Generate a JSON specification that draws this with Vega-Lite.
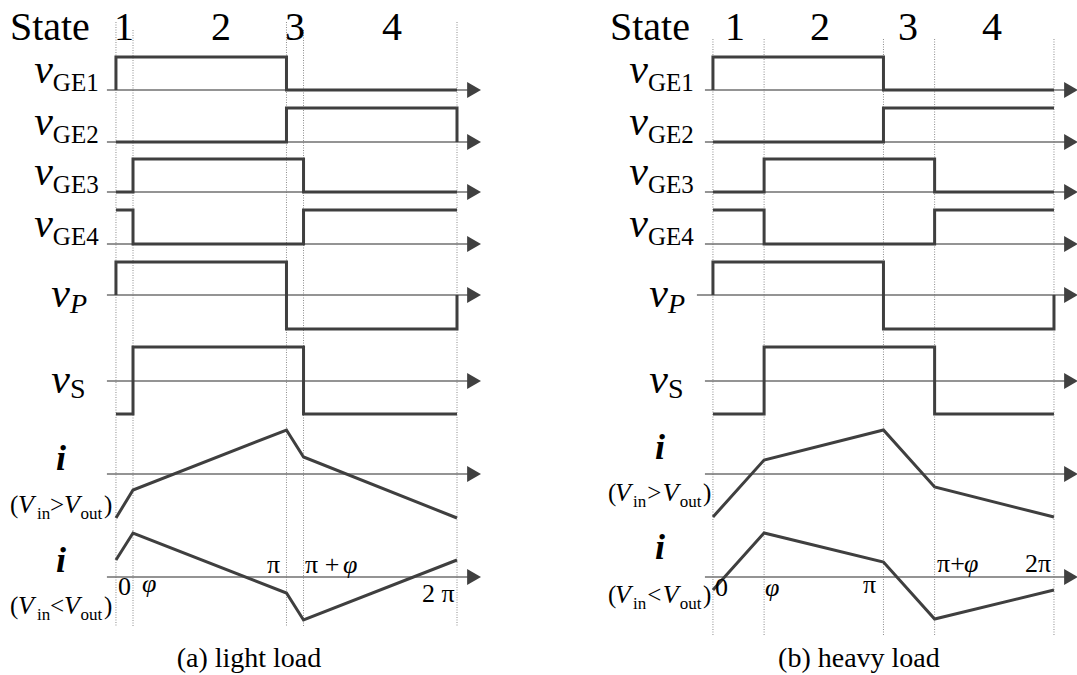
{
"$schema": "https://vega.github.io/schema/vega-lite/v6.json",
"padding": 0,
"spacing": 0,
"bounds": "flush",
"background": "white",
"config": {"font": "Liberation Serif", "view": {"stroke": null}, "text": {"font": "Liberation Serif", "color": "#000000"}},
"datasets": {"d": [
{"panel":"a","kind":"grid","x":0,"y":22,"y2":627},
{"panel":"a","kind":"grid","x":0.1,"y":30,"y2":627},
{"panel":"a","kind":"grid","x":1,"y":22,"y2":627},
{"panel":"a","kind":"grid","x":1.1,"y":30,"y2":627},
{"panel":"a","kind":"grid","x":2,"y":22,"y2":627},
{"panel":"b","kind":"grid","x":0,"y":39,"y2":635},
{"panel":"b","kind":"grid","x":0.3,"y":39,"y2":635},
{"panel":"b","kind":"grid","x":1,"y":39,"y2":635},
{"panel":"b","kind":"grid","x":1.3,"y":39,"y2":635},
{"panel":"b","kind":"grid","x":2,"y":39,"y2":635},

{"panel":"a","kind":"axis","x":-0.053,"x2":2.08,"y":90},
{"panel":"a","kind":"axis","x":-0.053,"x2":2.08,"y":142},
{"panel":"a","kind":"axis","x":-0.053,"x2":2.08,"y":192},
{"panel":"a","kind":"axis","x":-0.053,"x2":2.08,"y":244},
{"panel":"a","kind":"axis","x":-0.053,"x2":2.08,"y":295},
{"panel":"a","kind":"axis","x":-0.053,"x2":2.08,"y":381},
{"panel":"a","kind":"axis","x":-0.053,"x2":2.08,"y":474},
{"panel":"a","kind":"axis","x":-0.053,"x2":2.08,"y":577},
{"panel":"b","kind":"axis","x":-0.047,"x2":2.08,"y":90},
{"panel":"b","kind":"axis","x":-0.047,"x2":2.08,"y":142},
{"panel":"b","kind":"axis","x":-0.047,"x2":2.08,"y":192},
{"panel":"b","kind":"axis","x":-0.047,"x2":2.08,"y":244},
{"panel":"b","kind":"axis","x":-0.094,"x2":2.08,"y":295},
{"panel":"b","kind":"axis","x":-0.047,"x2":2.08,"y":381},
{"panel":"b","kind":"axis","x":-0.047,"x2":2.08,"y":474},
{"panel":"b","kind":"axis","x":-0.047,"x2":2.08,"y":577},

{"panel":"a","kind":"arrow","x":2.1,"y":90},
{"panel":"a","kind":"arrow","x":2.1,"y":142},
{"panel":"a","kind":"arrow","x":2.1,"y":192},
{"panel":"a","kind":"arrow","x":2.1,"y":244},
{"panel":"a","kind":"arrow","x":2.1,"y":295},
{"panel":"a","kind":"arrow","x":2.1,"y":381},
{"panel":"a","kind":"arrow","x":2.1,"y":474},
{"panel":"a","kind":"arrow","x":2.1,"y":577},
{"panel":"b","kind":"arrow","x":2.1,"y":90},
{"panel":"b","kind":"arrow","x":2.1,"y":142},
{"panel":"b","kind":"arrow","x":2.1,"y":192},
{"panel":"b","kind":"arrow","x":2.1,"y":244},
{"panel":"b","kind":"arrow","x":2.1,"y":295},
{"panel":"b","kind":"arrow","x":2.1,"y":381},
{"panel":"b","kind":"arrow","x":2.1,"y":474},
{"panel":"b","kind":"arrow","x":2.1,"y":577},

{"panel":"a","kind":"wave","sig":"GE1","ord":1,"x":0,"y":90},
{"panel":"a","kind":"wave","sig":"GE1","ord":2,"x":0,"y":57},
{"panel":"a","kind":"wave","sig":"GE1","ord":3,"x":1,"y":57},
{"panel":"a","kind":"wave","sig":"GE1","ord":4,"x":1,"y":90},
{"panel":"a","kind":"wave","sig":"GE1","ord":5,"x":2,"y":90},
{"panel":"a","kind":"wave","sig":"GE2","ord":1,"x":0,"y":142},
{"panel":"a","kind":"wave","sig":"GE2","ord":2,"x":1,"y":142},
{"panel":"a","kind":"wave","sig":"GE2","ord":3,"x":1,"y":108},
{"panel":"a","kind":"wave","sig":"GE2","ord":4,"x":2,"y":108},
{"panel":"a","kind":"wave","sig":"GE2","ord":5,"x":2,"y":142},
{"panel":"a","kind":"wave","sig":"GE3","ord":1,"x":0,"y":192},
{"panel":"a","kind":"wave","sig":"GE3","ord":2,"x":0.1,"y":192},
{"panel":"a","kind":"wave","sig":"GE3","ord":3,"x":0.1,"y":159},
{"panel":"a","kind":"wave","sig":"GE3","ord":4,"x":1.1,"y":159},
{"panel":"a","kind":"wave","sig":"GE3","ord":5,"x":1.1,"y":192},
{"panel":"a","kind":"wave","sig":"GE3","ord":6,"x":2,"y":192},
{"panel":"a","kind":"wave","sig":"GE4","ord":1,"x":0,"y":210},
{"panel":"a","kind":"wave","sig":"GE4","ord":2,"x":0.1,"y":210},
{"panel":"a","kind":"wave","sig":"GE4","ord":3,"x":0.1,"y":244},
{"panel":"a","kind":"wave","sig":"GE4","ord":4,"x":1.1,"y":244},
{"panel":"a","kind":"wave","sig":"GE4","ord":5,"x":1.1,"y":210},
{"panel":"a","kind":"wave","sig":"GE4","ord":6,"x":2,"y":210},
{"panel":"a","kind":"wave","sig":"P","ord":1,"x":0,"y":295},
{"panel":"a","kind":"wave","sig":"P","ord":2,"x":0,"y":262},
{"panel":"a","kind":"wave","sig":"P","ord":3,"x":1,"y":262},
{"panel":"a","kind":"wave","sig":"P","ord":4,"x":1,"y":329},
{"panel":"a","kind":"wave","sig":"P","ord":5,"x":2,"y":329},
{"panel":"a","kind":"wave","sig":"P","ord":6,"x":2,"y":295},
{"panel":"a","kind":"wave","sig":"S","ord":1,"x":0,"y":414},
{"panel":"a","kind":"wave","sig":"S","ord":2,"x":0.1,"y":414},
{"panel":"a","kind":"wave","sig":"S","ord":3,"x":0.1,"y":347},
{"panel":"a","kind":"wave","sig":"S","ord":4,"x":1.1,"y":347},
{"panel":"a","kind":"wave","sig":"S","ord":5,"x":1.1,"y":414},
{"panel":"a","kind":"wave","sig":"S","ord":6,"x":2,"y":414},
{"panel":"a","kind":"wave","sig":"I1","ord":1,"x":0,"y":518},
{"panel":"a","kind":"wave","sig":"I1","ord":2,"x":0.1,"y":490},
{"panel":"a","kind":"wave","sig":"I1","ord":3,"x":1,"y":430},
{"panel":"a","kind":"wave","sig":"I1","ord":4,"x":1.1,"y":457},
{"panel":"a","kind":"wave","sig":"I1","ord":5,"x":2,"y":518},
{"panel":"a","kind":"wave","sig":"I2","ord":1,"x":0,"y":560},
{"panel":"a","kind":"wave","sig":"I2","ord":2,"x":0.1,"y":533},
{"panel":"a","kind":"wave","sig":"I2","ord":3,"x":1,"y":593},
{"panel":"a","kind":"wave","sig":"I2","ord":4,"x":1.1,"y":620},
{"panel":"a","kind":"wave","sig":"I2","ord":5,"x":2,"y":560},

{"panel":"b","kind":"wave","sig":"GE1","ord":1,"x":0,"y":90},
{"panel":"b","kind":"wave","sig":"GE1","ord":2,"x":0,"y":57},
{"panel":"b","kind":"wave","sig":"GE1","ord":3,"x":1,"y":57},
{"panel":"b","kind":"wave","sig":"GE1","ord":4,"x":1,"y":90},
{"panel":"b","kind":"wave","sig":"GE1","ord":5,"x":2,"y":90},
{"panel":"b","kind":"wave","sig":"GE2","ord":1,"x":0,"y":142},
{"panel":"b","kind":"wave","sig":"GE2","ord":2,"x":1,"y":142},
{"panel":"b","kind":"wave","sig":"GE2","ord":3,"x":1,"y":108},
{"panel":"b","kind":"wave","sig":"GE2","ord":4,"x":2,"y":108},
{"panel":"b","kind":"wave","sig":"GE3","ord":1,"x":0,"y":192},
{"panel":"b","kind":"wave","sig":"GE3","ord":2,"x":0.3,"y":192},
{"panel":"b","kind":"wave","sig":"GE3","ord":3,"x":0.3,"y":159},
{"panel":"b","kind":"wave","sig":"GE3","ord":4,"x":1.3,"y":159},
{"panel":"b","kind":"wave","sig":"GE3","ord":5,"x":1.3,"y":192},
{"panel":"b","kind":"wave","sig":"GE3","ord":6,"x":2,"y":192},
{"panel":"b","kind":"wave","sig":"GE4","ord":1,"x":0,"y":210},
{"panel":"b","kind":"wave","sig":"GE4","ord":2,"x":0.3,"y":210},
{"panel":"b","kind":"wave","sig":"GE4","ord":3,"x":0.3,"y":244},
{"panel":"b","kind":"wave","sig":"GE4","ord":4,"x":1.3,"y":244},
{"panel":"b","kind":"wave","sig":"GE4","ord":5,"x":1.3,"y":210},
{"panel":"b","kind":"wave","sig":"GE4","ord":6,"x":2,"y":210},
{"panel":"b","kind":"wave","sig":"P","ord":1,"x":0,"y":295},
{"panel":"b","kind":"wave","sig":"P","ord":2,"x":0,"y":262},
{"panel":"b","kind":"wave","sig":"P","ord":3,"x":1,"y":262},
{"panel":"b","kind":"wave","sig":"P","ord":4,"x":1,"y":329},
{"panel":"b","kind":"wave","sig":"P","ord":5,"x":2,"y":329},
{"panel":"b","kind":"wave","sig":"P","ord":6,"x":2,"y":295},
{"panel":"b","kind":"wave","sig":"S","ord":1,"x":0,"y":414},
{"panel":"b","kind":"wave","sig":"S","ord":2,"x":0.3,"y":414},
{"panel":"b","kind":"wave","sig":"S","ord":3,"x":0.3,"y":347},
{"panel":"b","kind":"wave","sig":"S","ord":4,"x":1.3,"y":347},
{"panel":"b","kind":"wave","sig":"S","ord":5,"x":1.3,"y":414},
{"panel":"b","kind":"wave","sig":"S","ord":6,"x":2,"y":414},
{"panel":"b","kind":"wave","sig":"I1","ord":1,"x":0,"y":517},
{"panel":"b","kind":"wave","sig":"I1","ord":2,"x":0.3,"y":460},
{"panel":"b","kind":"wave","sig":"I1","ord":3,"x":1,"y":430},
{"panel":"b","kind":"wave","sig":"I1","ord":4,"x":1.3,"y":487},
{"panel":"b","kind":"wave","sig":"I1","ord":5,"x":2,"y":517},
{"panel":"b","kind":"wave","sig":"I2","ord":1,"x":0,"y":590},
{"panel":"b","kind":"wave","sig":"I2","ord":2,"x":0.3,"y":533},
{"panel":"b","kind":"wave","sig":"I2","ord":3,"x":1,"y":562},
{"panel":"b","kind":"wave","sig":"I2","ord":4,"x":1.3,"y":619},
{"panel":"b","kind":"wave","sig":"I2","ord":5,"x":2,"y":590},

{"panel":"a","kind":"text","role":"state","txt":"State","x":-0.622,"y":40},
{"panel":"a","kind":"text","role":"num","txt":"1","x":0.047,"y":40},
{"panel":"a","kind":"text","role":"num","txt":"2","x":0.616,"y":40},
{"panel":"a","kind":"text","role":"num","txt":"3","x":1.05,"y":40},
{"panel":"a","kind":"text","role":"num","txt":"4","x":1.619,"y":40},
{"panel":"a","kind":"text","role":"v","txt":"v","x":-0.37,"y":83},
{"panel":"a","kind":"text","role":"v","txt":"v","x":-0.37,"y":135},
{"panel":"a","kind":"text","role":"v","txt":"v","x":-0.37,"y":185},
{"panel":"a","kind":"text","role":"v","txt":"v","x":-0.37,"y":237},
{"panel":"a","kind":"text","role":"v","txt":"v","x":-0.27,"y":307},
{"panel":"a","kind":"text","role":"v","txt":"v","x":-0.27,"y":393},
{"panel":"a","kind":"text","role":"sub","txt":"GE1","x":-0.37,"y":91},
{"panel":"a","kind":"text","role":"sub","txt":"GE2","x":-0.37,"y":143},
{"panel":"a","kind":"text","role":"sub","txt":"GE3","x":-0.37,"y":193},
{"panel":"a","kind":"text","role":"sub","txt":"GE4","x":-0.37,"y":245},
{"panel":"a","kind":"text","role":"subit","txt":"P","x":-0.27,"y":313},
{"panel":"a","kind":"text","role":"sub2","txt":"S","x":-0.27,"y":398},
{"panel":"a","kind":"text","role":"i","txt":"i","x":-0.323,"y":470},
{"panel":"a","kind":"text","role":"i","txt":"i","x":-0.323,"y":572},
{"panel":"a","kind":"text","role":"paren","txt":"(","x":-0.622,"y":513},
{"panel":"a","kind":"text","role":"paren","txt":">","x":-0.387,"y":513},
{"panel":"a","kind":"text","role":"paren","txt":")","x":-0.07,"y":513},
{"panel":"a","kind":"text","role":"paren","txt":"(","x":-0.622,"y":614},
{"panel":"a","kind":"text","role":"paren","txt":"<","x":-0.387,"y":614},
{"panel":"a","kind":"text","role":"paren","txt":")","x":-0.07,"y":614},
{"panel":"a","kind":"text","role":"V","txt":"V","x":-0.575,"y":513},
{"panel":"a","kind":"text","role":"V","txt":"V","x":-0.305,"y":513},
{"panel":"a","kind":"text","role":"V","txt":"V","x":-0.575,"y":614},
{"panel":"a","kind":"text","role":"V","txt":"V","x":-0.305,"y":614},
{"panel":"a","kind":"text","role":"small","txt":"in","x":-0.463,"y":519},
{"panel":"a","kind":"text","role":"small","txt":"out","x":-0.208,"y":519},
{"panel":"a","kind":"text","role":"small","txt":"in","x":-0.463,"y":620},
{"panel":"a","kind":"text","role":"small","txt":"out","x":-0.208,"y":620},
{"panel":"a","kind":"text","role":"tick","txt":"0","x":0.012,"y":595},
{"panel":"a","kind":"text","role":"tick","txt":"π","x":0.886,"y":573},
{"panel":"a","kind":"text","role":"tick","txt":"π +","x":1.109,"y":573},
{"panel":"a","kind":"text","role":"tick","txt":"2 π","x":1.795,"y":602},
{"panel":"a","kind":"text","role":"tickit","txt":"φ","x":0.152,"y":592},
{"panel":"a","kind":"text","role":"tickit","txt":"φ","x":1.331,"y":573},
{"panel":"a","kind":"text","role":"caption","txt":"(a) light load","x":0.78,"y":667},

{"panel":"b","kind":"text","role":"state","txt":"State","x":-0.604,"y":40},
{"panel":"b","kind":"text","role":"num","txt":"1","x":0.129,"y":40},
{"panel":"b","kind":"text","role":"num","txt":"2","x":0.628,"y":40},
{"panel":"b","kind":"text","role":"num","txt":"3","x":1.144,"y":40},
{"panel":"b","kind":"text","role":"num","txt":"4","x":1.636,"y":40},
{"panel":"b","kind":"text","role":"v","txt":"v","x":-0.381,"y":83},
{"panel":"b","kind":"text","role":"v","txt":"v","x":-0.381,"y":135},
{"panel":"b","kind":"text","role":"v","txt":"v","x":-0.381,"y":185},
{"panel":"b","kind":"text","role":"v","txt":"v","x":-0.381,"y":237},
{"panel":"b","kind":"text","role":"v","txt":"v","x":-0.264,"y":307},
{"panel":"b","kind":"text","role":"v","txt":"v","x":-0.264,"y":393},
{"panel":"b","kind":"text","role":"sub","txt":"GE1","x":-0.381,"y":91},
{"panel":"b","kind":"text","role":"sub","txt":"GE2","x":-0.381,"y":143},
{"panel":"b","kind":"text","role":"sub","txt":"GE3","x":-0.381,"y":193},
{"panel":"b","kind":"text","role":"sub","txt":"GE4","x":-0.381,"y":245},
{"panel":"b","kind":"text","role":"subit","txt":"P","x":-0.264,"y":313},
{"panel":"b","kind":"text","role":"sub2","txt":"S","x":-0.264,"y":398},
{"panel":"b","kind":"text","role":"i","txt":"i","x":-0.311,"y":459},
{"panel":"b","kind":"text","role":"i","txt":"i","x":-0.311,"y":559},
{"panel":"b","kind":"text","role":"paren","txt":"(","x":-0.616,"y":501},
{"panel":"b","kind":"text","role":"paren","txt":">","x":-0.386,"y":501},
{"panel":"b","kind":"text","role":"paren","txt":")","x":-0.059,"y":501},
{"panel":"b","kind":"text","role":"paren","txt":"(","x":-0.616,"y":603},
{"panel":"b","kind":"text","role":"paren","txt":"<","x":-0.386,"y":603},
{"panel":"b","kind":"text","role":"paren","txt":")","x":-0.059,"y":603},
{"panel":"b","kind":"text","role":"V","txt":"V","x":-0.575,"y":501},
{"panel":"b","kind":"text","role":"V","txt":"V","x":-0.295,"y":501},
{"panel":"b","kind":"text","role":"V","txt":"V","x":-0.575,"y":603},
{"panel":"b","kind":"text","role":"V","txt":"V","x":-0.295,"y":603},
{"panel":"b","kind":"text","role":"small","txt":"in","x":-0.469,"y":507},
{"panel":"b","kind":"text","role":"small","txt":"out","x":-0.194,"y":507},
{"panel":"b","kind":"text","role":"small","txt":"in","x":-0.469,"y":609},
{"panel":"b","kind":"text","role":"small","txt":"out","x":-0.194,"y":609},
{"panel":"b","kind":"text","role":"tick","txt":"0","x":0.012,"y":596},
{"panel":"b","kind":"text","role":"tick","txt":"π","x":0.88,"y":593},
{"panel":"b","kind":"text","role":"tick","txt":"π+","x":1.314,"y":572},
{"panel":"b","kind":"text","role":"tick","txt":"2π","x":1.83,"y":572},
{"panel":"b","kind":"text","role":"tickit","txt":"φ","x":0.305,"y":596},
{"panel":"b","kind":"text","role":"tickit","txt":"φ","x":1.472,"y":572},
{"panel":"b","kind":"text","role":"caption","txt":"(b) heavy load","x":0.856,"y":667}
]},
"hconcat": [
{
"width": 538, "height": 675,
"data": {"name": "d"},
"transform": [{"filter": "datum.panel == 'a'"}],
"encoding": {
  "x": {"field": "x", "type": "quantitative", "axis": null, "scale": {"domain": [-0.68, 2.475], "zero": false, "nice": false}},
  "y": {"field": "y", "type": "quantitative", "axis": null, "scale": {"domain": [675, 0], "zero": false, "nice": false}}
},
"layer": [
  {"transform": [{"filter": "datum.kind == 'grid'"}], "mark": {"type": "rule", "color": "#8c8c8c", "strokeWidth": 1, "strokeDash": [1, 1.5]}, "encoding": {"y2": {"field": "y2"}}},
  {"transform": [{"filter": "datum.kind == 'axis'"}], "mark": {"type": "rule", "color": "#707070", "strokeWidth": 1.4}, "encoding": {"x2": {"field": "x2"}}},
  {"transform": [{"filter": "datum.kind == 'arrow'"}], "mark": {"type": "point", "shape": "triangle-right", "filled": true, "color": "#404040", "opacity": 1, "size": 256}},
  {"transform": [{"filter": "datum.kind == 'wave'"}], "mark": {"type": "line", "color": "#3f3f3f", "strokeWidth": 3, "strokeJoin": "miter"}, "encoding": {"detail": {"field": "sig"}, "order": {"field": "ord", "type": "quantitative"}}},
  {"transform": [{"filter": "datum.role == 'state'"}], "mark": {"type": "text", "font": "Liberation Serif", "align": "left", "baseline": "alphabetic", "fontSize": 40}, "encoding": {"text": {"field": "txt"}}},
  {"transform": [{"filter": "datum.role == 'num'"}], "mark": {"type": "text", "font": "Liberation Serif", "align": "center", "baseline": "alphabetic", "fontSize": 40}, "encoding": {"text": {"field": "txt"}}},
  {"transform": [{"filter": "datum.role == 'v'"}], "mark": {"type": "text", "font": "Liberation Serif", "align": "right", "baseline": "alphabetic", "fontSize": 42, "fontStyle": "italic"}, "encoding": {"text": {"field": "txt"}}},
  {"transform": [{"filter": "datum.role == 'sub'"}], "mark": {"type": "text", "font": "Liberation Serif", "align": "left", "baseline": "alphabetic", "fontSize": 25}, "encoding": {"text": {"field": "txt"}}},
  {"transform": [{"filter": "datum.role == 'subit'"}], "mark": {"type": "text", "font": "Liberation Serif", "align": "left", "baseline": "alphabetic", "fontSize": 28, "fontStyle": "italic"}, "encoding": {"text": {"field": "txt"}}},
  {"transform": [{"filter": "datum.role == 'sub2'"}], "mark": {"type": "text", "font": "Liberation Serif", "align": "left", "baseline": "alphabetic", "fontSize": 28}, "encoding": {"text": {"field": "txt"}}},
  {"transform": [{"filter": "datum.role == 'i'"}], "mark": {"type": "text", "font": "Liberation Serif", "align": "center", "baseline": "alphabetic", "fontSize": 36, "fontStyle": "italic", "fontWeight": "bold"}, "encoding": {"text": {"field": "txt"}}},
  {"transform": [{"filter": "datum.role == 'paren'"}], "mark": {"type": "text", "font": "Liberation Serif", "align": "left", "baseline": "alphabetic", "fontSize": 25}, "encoding": {"text": {"field": "txt"}}},
  {"transform": [{"filter": "datum.role == 'V'"}], "mark": {"type": "text", "font": "Liberation Serif", "align": "left", "baseline": "alphabetic", "fontSize": 26, "fontStyle": "italic"}, "encoding": {"text": {"field": "txt"}}},
  {"transform": [{"filter": "datum.role == 'small'"}], "mark": {"type": "text", "font": "Liberation Serif", "align": "left", "baseline": "alphabetic", "fontSize": 17}, "encoding": {"text": {"field": "txt"}}},
  {"transform": [{"filter": "datum.role == 'tick'"}], "mark": {"type": "text", "font": "Liberation Serif", "align": "left", "baseline": "alphabetic", "fontSize": 26}, "encoding": {"text": {"field": "txt"}}},
  {"transform": [{"filter": "datum.role == 'tickit'"}], "mark": {"type": "text", "font": "Liberation Serif", "align": "left", "baseline": "alphabetic", "fontSize": 26, "fontStyle": "italic"}, "encoding": {"text": {"field": "txt"}}},
  {"transform": [{"filter": "datum.role == 'caption'"}], "mark": {"type": "text", "font": "Liberation Serif", "align": "center", "baseline": "alphabetic", "fontSize": 28}, "encoding": {"text": {"field": "txt"}}}
]
},
{
"width": 539, "height": 675,
"data": {"name": "d"},
"transform": [{"filter": "datum.panel == 'b'"}],
"encoding": {
  "x": {"field": "x", "type": "quantitative", "axis": null, "scale": {"domain": [-1.026, 2.135], "zero": false, "nice": false}},
  "y": {"field": "y", "type": "quantitative", "axis": null, "scale": {"domain": [675, 0], "zero": false, "nice": false}}
},
"layer": [
  {"transform": [{"filter": "datum.kind == 'grid'"}], "mark": {"type": "rule", "color": "#8c8c8c", "strokeWidth": 1, "strokeDash": [1, 1.5]}, "encoding": {"y2": {"field": "y2"}}},
  {"transform": [{"filter": "datum.kind == 'axis'"}], "mark": {"type": "rule", "color": "#707070", "strokeWidth": 1.4}, "encoding": {"x2": {"field": "x2"}}},
  {"transform": [{"filter": "datum.kind == 'arrow'"}], "mark": {"type": "point", "shape": "triangle-right", "filled": true, "color": "#404040", "opacity": 1, "size": 256}},
  {"transform": [{"filter": "datum.kind == 'wave'"}], "mark": {"type": "line", "color": "#3f3f3f", "strokeWidth": 3, "strokeJoin": "miter"}, "encoding": {"detail": {"field": "sig"}, "order": {"field": "ord", "type": "quantitative"}}},
  {"transform": [{"filter": "datum.role == 'state'"}], "mark": {"type": "text", "font": "Liberation Serif", "align": "left", "baseline": "alphabetic", "fontSize": 40}, "encoding": {"text": {"field": "txt"}}},
  {"transform": [{"filter": "datum.role == 'num'"}], "mark": {"type": "text", "font": "Liberation Serif", "align": "center", "baseline": "alphabetic", "fontSize": 40}, "encoding": {"text": {"field": "txt"}}},
  {"transform": [{"filter": "datum.role == 'v'"}], "mark": {"type": "text", "font": "Liberation Serif", "align": "right", "baseline": "alphabetic", "fontSize": 42, "fontStyle": "italic"}, "encoding": {"text": {"field": "txt"}}},
  {"transform": [{"filter": "datum.role == 'sub'"}], "mark": {"type": "text", "font": "Liberation Serif", "align": "left", "baseline": "alphabetic", "fontSize": 25}, "encoding": {"text": {"field": "txt"}}},
  {"transform": [{"filter": "datum.role == 'subit'"}], "mark": {"type": "text", "font": "Liberation Serif", "align": "left", "baseline": "alphabetic", "fontSize": 28, "fontStyle": "italic"}, "encoding": {"text": {"field": "txt"}}},
  {"transform": [{"filter": "datum.role == 'sub2'"}], "mark": {"type": "text", "font": "Liberation Serif", "align": "left", "baseline": "alphabetic", "fontSize": 28}, "encoding": {"text": {"field": "txt"}}},
  {"transform": [{"filter": "datum.role == 'i'"}], "mark": {"type": "text", "font": "Liberation Serif", "align": "center", "baseline": "alphabetic", "fontSize": 36, "fontStyle": "italic", "fontWeight": "bold"}, "encoding": {"text": {"field": "txt"}}},
  {"transform": [{"filter": "datum.role == 'paren'"}], "mark": {"type": "text", "font": "Liberation Serif", "align": "left", "baseline": "alphabetic", "fontSize": 25}, "encoding": {"text": {"field": "txt"}}},
  {"transform": [{"filter": "datum.role == 'V'"}], "mark": {"type": "text", "font": "Liberation Serif", "align": "left", "baseline": "alphabetic", "fontSize": 26, "fontStyle": "italic"}, "encoding": {"text": {"field": "txt"}}},
  {"transform": [{"filter": "datum.role == 'small'"}], "mark": {"type": "text", "font": "Liberation Serif", "align": "left", "baseline": "alphabetic", "fontSize": 17}, "encoding": {"text": {"field": "txt"}}},
  {"transform": [{"filter": "datum.role == 'tick'"}], "mark": {"type": "text", "font": "Liberation Serif", "align": "left", "baseline": "alphabetic", "fontSize": 26}, "encoding": {"text": {"field": "txt"}}},
  {"transform": [{"filter": "datum.role == 'tickit'"}], "mark": {"type": "text", "font": "Liberation Serif", "align": "left", "baseline": "alphabetic", "fontSize": 26, "fontStyle": "italic"}, "encoding": {"text": {"field": "txt"}}},
  {"transform": [{"filter": "datum.role == 'caption'"}], "mark": {"type": "text", "font": "Liberation Serif", "align": "center", "baseline": "alphabetic", "fontSize": 28}, "encoding": {"text": {"field": "txt"}}}
]
}
]
}
